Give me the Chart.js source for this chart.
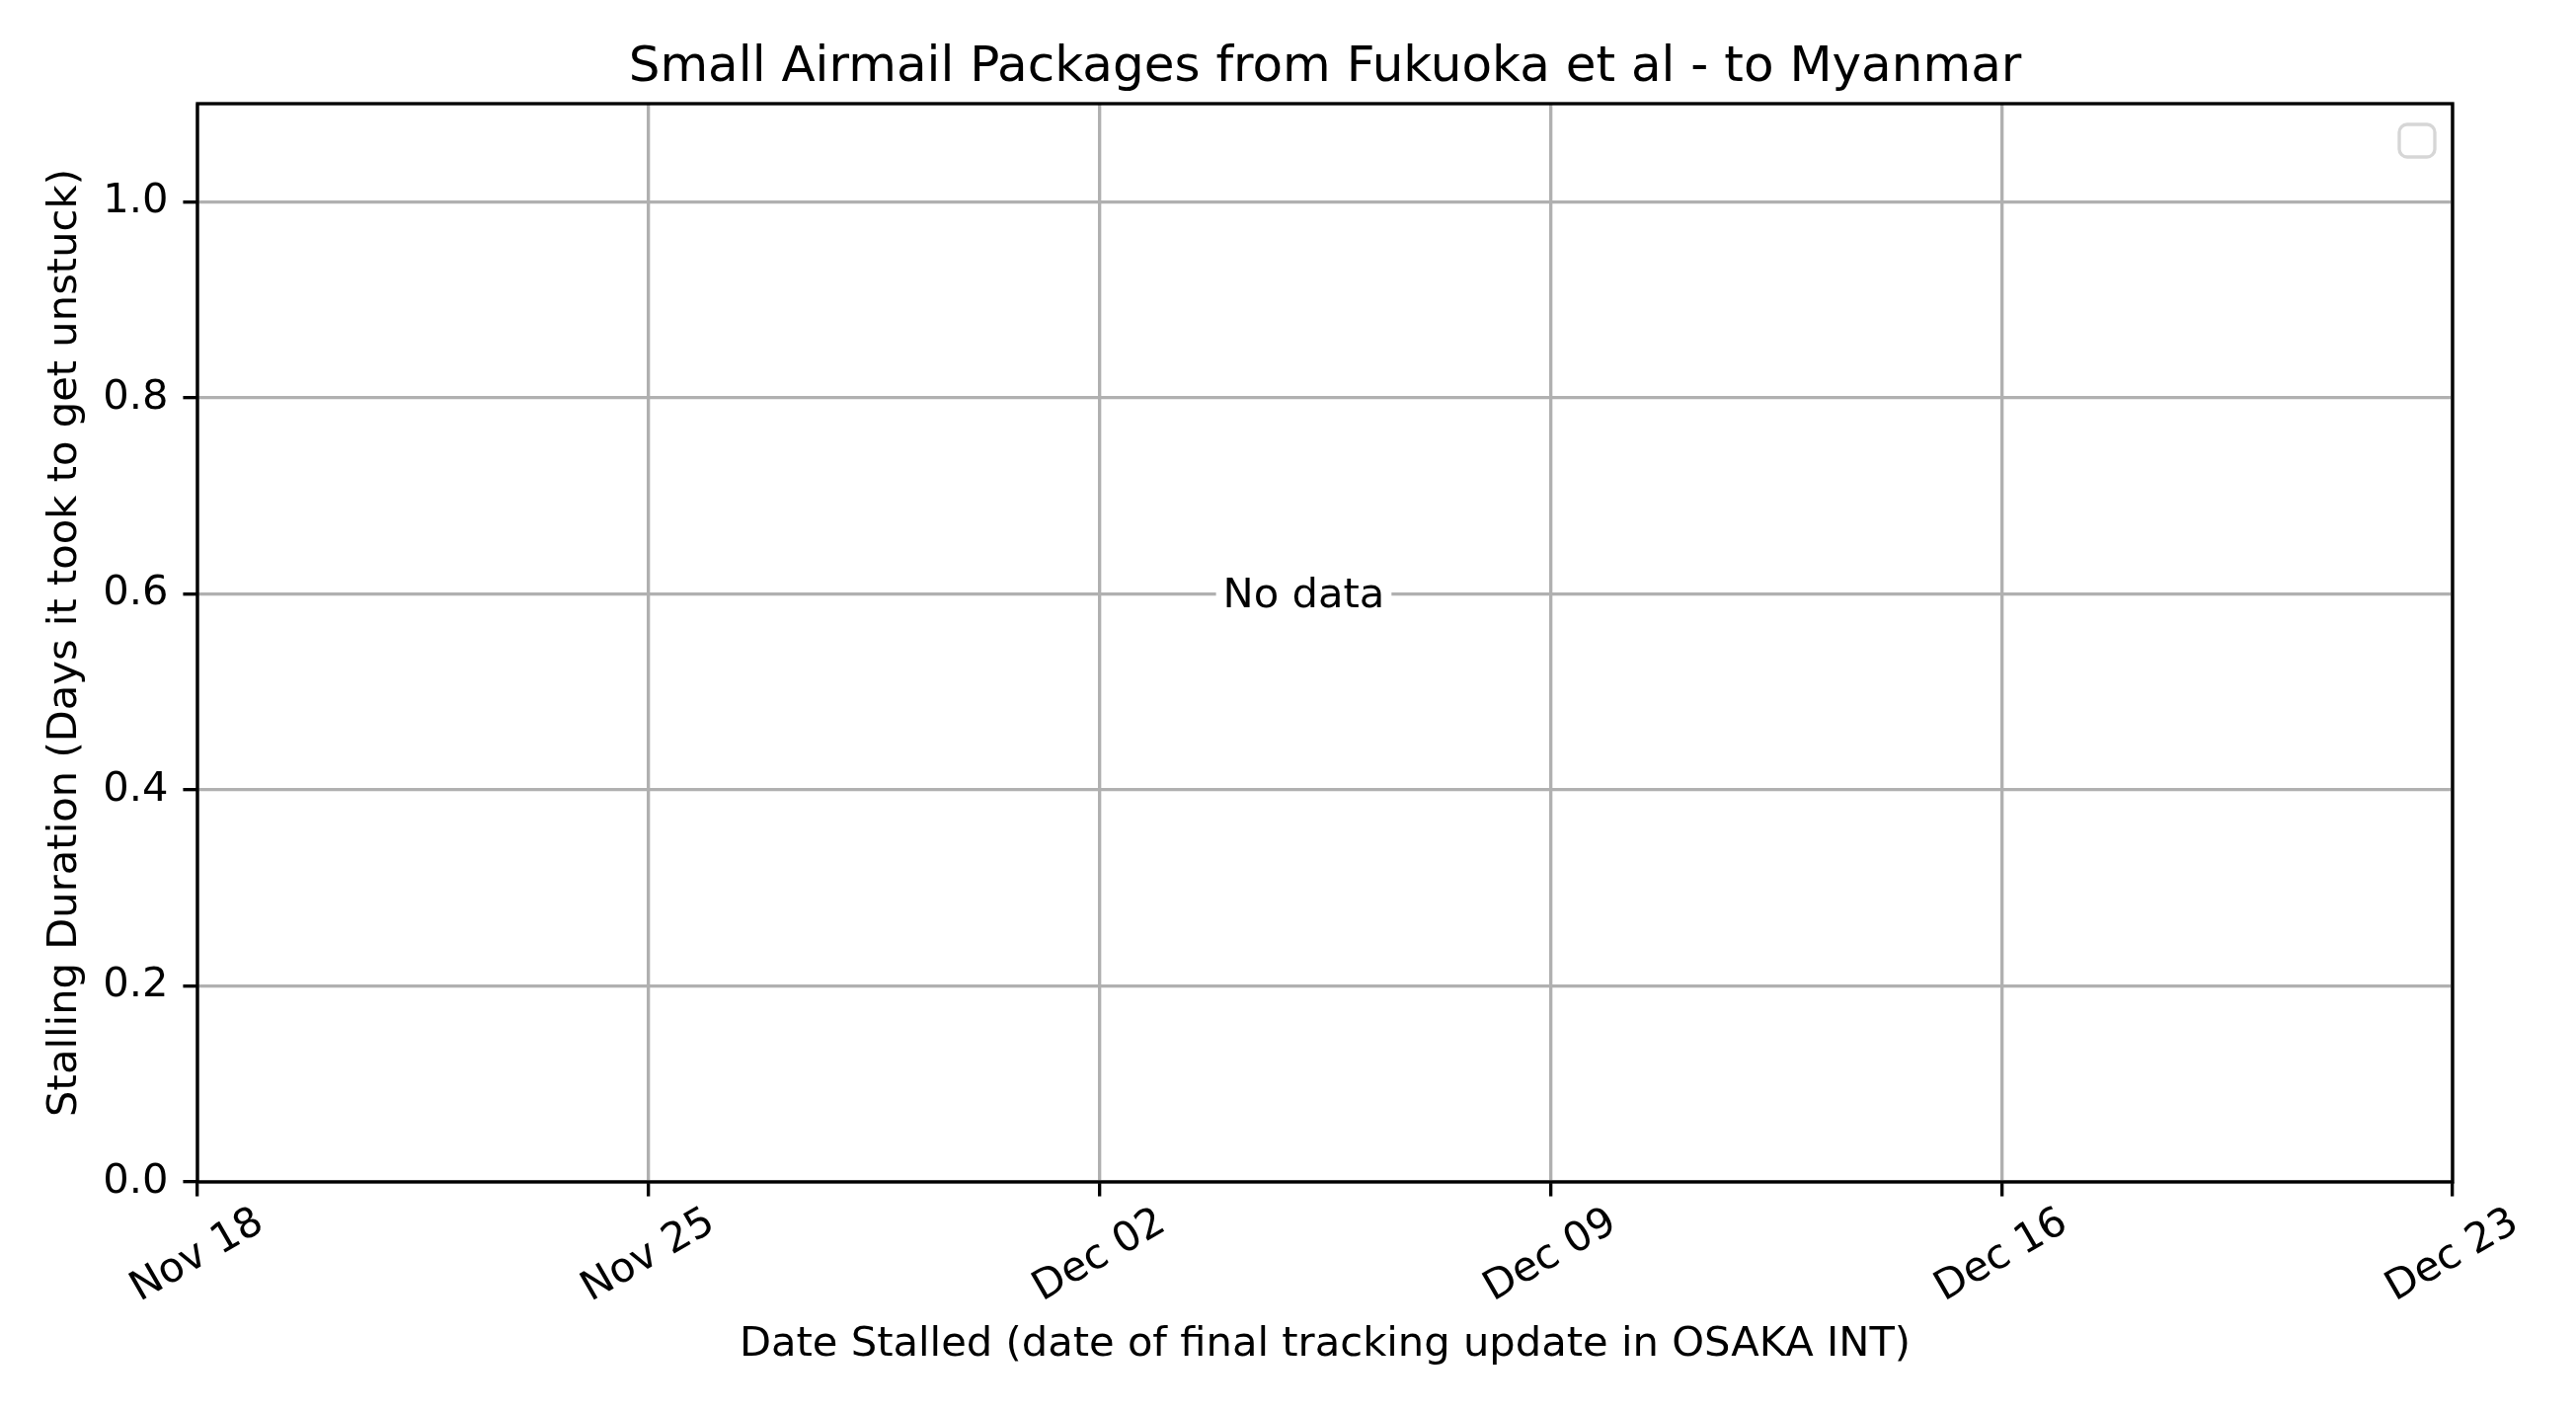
<!DOCTYPE html>
<html>
<head>
<meta charset="utf-8">
<script src="https://cdn.jsdelivr.net/npm/chart.js@4/dist/chart.umd.min.js"></script>
<style>
html,body{margin:0;padding:0;background:#fff;}
#wrap{width:2609px;height:1430px;}
</style>
</head>
<body>
<div id="wrap"><canvas id="c" width="2609" height="1430"></canvas></div>
<script>
// ---- data ----
const chartTitle = "Small Airmail Packages from Fukuoka et al - to Myanmar";
const xAxisTitle = "Date Stalled (date of final tracking update in OSAKA INT)";
const yAxisTitle = "Stalling Duration (Days it took to get unstuck)";
const xTickLabels = ["Nov 18", "Nov 25", "Dec 02", "Dec 09", "Dec 16", "Dec 23"];
const xTickDays = [0, 7, 14, 21, 28, 35];          // days since Nov 18
const xRange = [0, 35];                             // Nov 18 .. Dec 23
const yRange = [0, 1.1];
const yTickStep = 0.2;
const stallDays = [];                               // no stalled packages
const stallDurations = [];
const emptyMessage = "No data";
const emptyMessageAt = [17.17, 0.6];               // data coords of the "No data" note

// ---- rendering ----
const PT = 300 / 72;
const FONT = '"DejaVu Sans", "Liberation Sans", sans-serif';
const LABEL_PX = 10 * PT;
const TITLE_PX = 12 * PT;

const decor = {
  id: 'decor',
  afterDraw(chart) {
    const { ctx, chartArea: a, scales: { x, y } } = chart;
    ctx.save();

    // "No data" note with white background box
    ctx.font = `${LABEL_PX}px ${FONT}`;
    const nx = x.getPixelForValue(emptyMessageAt[0]);
    const ny = y.getPixelForValue(emptyMessageAt[1]) + 14;
    const tw = ctx.measureText(emptyMessage).width;
    ctx.fillStyle = '#fff';
    ctx.fillRect(nx - tw / 2 - 7, ny - 44, tw + 14, 58);
    ctx.fillStyle = '#000';
    ctx.textAlign = 'center';
    ctx.textBaseline = 'alphabetic';
    ctx.fillText(emptyMessage, nx, ny);

    // spines
    ctx.strokeStyle = '#000';
    ctx.lineWidth = 0.8 * PT;
    ctx.strokeRect(a.left, a.top, a.right - a.left, a.bottom - a.top);

    // x tick labels (rotated 30°, centred on tick)
    ctx.textBaseline = 'middle';
    x.ticks.forEach(t => {
      const idx = xTickDays.indexOf(Math.round(t.value));
      if (idx < 0) return;
      const px = x.getPixelForValue(t.value);
      ctx.save();
      ctx.translate(px, a.bottom + 75);
      ctx.rotate(-Math.PI / 6);
      ctx.fillText(xTickLabels[idx], 0, 0);
      ctx.restore();
    });

    ctx.textBaseline = 'alphabetic';
    // x axis title
    const cx = (a.left + a.right) / 2;
    ctx.fillText(xAxisTitle, cx, a.bottom + 176);

    // y axis title
    ctx.save();
    ctx.translate(77, (a.top + a.bottom) / 2);
    ctx.rotate(-Math.PI / 2);
    ctx.fillText(yAxisTitle, 0, 0);
    ctx.restore();

    // chart title
    ctx.font = `${TITLE_PX}px ${FONT}`;
    ctx.fillText(chartTitle, cx, a.top - 23);

    // empty legend frame
    ctx.strokeStyle = 'rgba(204,204,204,0.8)';
    ctx.lineWidth = 0.8 * PT;
    ctx.fillStyle = 'rgba(255,255,255,0.8)';
    const lw = 36, lh = 33;
    const lx = a.right - 18 - lw, ly = a.top + 21;
    ctx.beginPath();
    if (ctx.roundRect) ctx.roundRect(lx, ly, lw, lh, 8); else ctx.rect(lx, ly, lw, lh);
    ctx.fill();
    ctx.stroke();
    ctx.restore();
  }
};

const gridOpts = {
  color: '#b0b0b0',
  lineWidth: 0.8 * PT,
  tickColor: '#000',
  tickWidth: 0.8 * PT,
  tickLength: 3.5 * PT,
  drawTicks: true
};

new Chart(document.getElementById('c'), {
  type: 'scatter',
  data: {
    datasets: [{
      label: '',
      data: stallDays.map((d, i) => ({ x: d, y: stallDurations[i] })),
      backgroundColor: '#1f77b4',
      borderColor: '#1f77b4'
    }]
  },
  options: {
    responsive: false,
    animation: false,
    devicePixelRatio: 1,
    layout: { padding: { left: 0, right: 125, top: 105, bottom: 0 } },
    plugins: { legend: { display: false }, title: { display: false }, tooltip: { enabled: false } },
    scales: {
      x: {
        type: 'linear',
        min: xRange[0],
        max: xRange[1],
        afterFit(s) { s.height = 233; },
        afterBuildTicks(s) { s.ticks = xTickDays.map(v => ({ value: v })); },
        ticks: { display: false, stepSize: 7, includeBounds: false },
        grid: gridOpts,
        border: { display: false }
      },
      y: {
        type: 'linear',
        min: yRange[0],
        max: yRange[1],
        afterFit(s) { s.width = 200; },
        ticks: {
          stepSize: yTickStep,
          includeBounds: false,
          color: '#000',
          padding: 15,
          font: { family: FONT, size: LABEL_PX },
          callback: v => Number(v).toFixed(1)
        },
        grid: gridOpts,
        border: { display: false }
      }
    }
  },
  plugins: [decor]
});
</script>
</body>
</html>
